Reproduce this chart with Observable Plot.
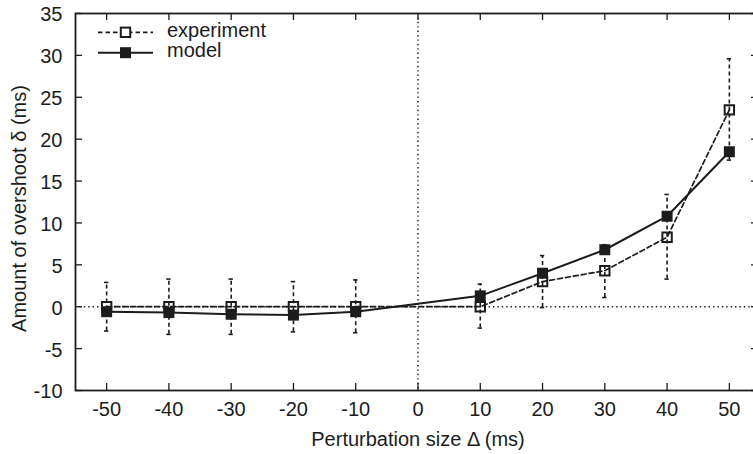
<!DOCTYPE html>
<html>
<head>
<meta charset="utf-8">
<script src="https://cdn.jsdelivr.net/npm/d3@7"></script>
<script src="https://cdn.jsdelivr.net/npm/@observablehq/plot@0.6"></script>
<style>
  html, body { margin: 0; padding: 0; background: #fff; overflow: hidden; }
  #chart svg { display: block; }
</style>
</head>
<body>
<div id="chart"></div>
<script>
// Perturbation sizes (ms)
const deltas = [-50, -40, -30, -20, -10, 10, 20, 30, 40, 50];
// Measured overshoot with error range
const experiment = [0, 0, 0, 0, 0, 0, 3.0, 4.3, 8.3, 23.5];
const experimentLow = [-2.9, -3.3, -3.3, -3.0, -3.1, -2.55, -0.1, 1.1, 3.3, 17.5];
const experimentHigh = [2.9, 3.3, 3.3, 3.0, 3.2, 2.7, 6.1, 7.4, 13.4, 29.6];
// Model prediction
const model = [-0.6, -0.7, -0.9, -1.0, -0.6, 1.3, 4.0, 6.8, 10.8, 18.5];
// Axis ticks
const xTicks = [-50, -40, -30, -20, -10, 0, 10, 20, 30, 40, 50];
const yTicks = [-10, -5, 0, 5, 10, 15, 20, 25, 30, 35];
const seriesNames = ["experiment", "model"];

const rows = deltas.map((d, i) => ({
  delta: d,
  exp: experiment[i],
  lo: experimentLow[i],
  hi: experimentHigh[i],
  model: model[i]
}));

const ink = "#1c1c1c";
const font = "'Liberation Sans', Arial, Helvetica, sans-serif";
const plain = d => String(d); // hyphen-minus for negative labels

const chart = Plot.plot({
  width: 753,
  height: 454,
  marginTop: 13,
  marginBottom: 64,
  marginLeft: 75,
  marginRight: -7,
  style: { fontFamily: font, fontSize: "20px", color: ink, background: "#fff" },
  x: { domain: [-55, 55] },
  y: { domain: [-10, 35] },
  marks: [
    // reference lines at zero
    Plot.ruleY([0], { stroke: ink, strokeWidth: 1.4, strokeDasharray: "1.4,3" }),
    Plot.ruleX([0], { stroke: ink, strokeWidth: 1.4, strokeDasharray: "1.4,3" }),
    // inward ticks on all four sides
    Plot.ruleX(xTicks, { x: d => d, y1: -10, y2: -10, insetTop: -7, stroke: ink, strokeWidth: 1.3 }),
    Plot.ruleX(xTicks, { x: d => d, y1: 35, y2: 35, insetBottom: -7, stroke: ink, strokeWidth: 1.3 }),
    Plot.ruleY(yTicks, { y: d => d, x1: -55, x2: -55, insetRight: -7, stroke: ink, strokeWidth: 1.3 }),
    Plot.ruleY(yTicks, { y: d => d, x1: 55, x2: 55, insetLeft: -9, stroke: ink, strokeWidth: 1.3 }),
    Plot.frame({ stroke: ink, strokeWidth: 1.8 }),
    // tick labels
    Plot.axisX(xTicks, { tickSize: 0, tickPadding: 11.5, label: null, fontSize: 20, tickFormat: plain }),
    Plot.axisY(yTicks, { tickSize: 0, tickPadding: 13, label: null, fontSize: 20, dy: 1.5, tickFormat: plain }),
    // axis titles
    Plot.text(["Perturbation size Δ (ms)"], {
      frameAnchor: "bottom", lineAnchor: "middle", textAnchor: "middle",
      dy: 48.6, fontSize: 20, fill: ink
    }),
    Plot.text(["Amount of overshoot δ (ms)"], {
      frameAnchor: "left", lineAnchor: "middle", textAnchor: "middle", rotate: -90,
      dx: -56.4, dy: 6.5, fontSize: 20, fill: ink
    }),
    // experiment error bars
    Plot.ruleX(rows, { x: "delta", y1: "lo", y2: "hi", stroke: ink, strokeWidth: 1.6, strokeDasharray: "4,3" }),
    Plot.ruleY(rows, { y: "hi", x1: d => d.delta - 0.35, x2: d => d.delta + 0.35, stroke: ink, strokeWidth: 1.6 }),
    Plot.ruleY(rows, { y: "lo", x1: d => d.delta - 0.35, x2: d => d.delta + 0.35, stroke: ink, strokeWidth: 1.6 }),
    // series lines
    Plot.line(rows, { x: "delta", y: "model", stroke: ink, strokeWidth: 2 }),
    Plot.line(rows, { x: "delta", y: "exp", stroke: ink, strokeWidth: 1.7, strokeDasharray: "5,3" }),
    // markers
    Plot.dot(rows, { x: "delta", y: "model", symbol: "square", r: 6.2, fill: ink, stroke: "none" }),
    Plot.dot(rows, { x: "delta", y: "exp", symbol: "square", r: 5.3, fill: "none", stroke: ink, strokeWidth: 2 })
  ]
});

// legend in the upper-left corner of the plot area
const svg = d3.select(chart);
const legend = svg.append("g")
  .attr("font-family", font).attr("font-size", 20).attr("fill", ink)
  .attr("text-anchor", "start");
const legendRows = [
  { name: seriesNames[0], y: 32.3, dash: "4.5,3", filled: false },
  { name: seriesNames[1], y: 52.7, dash: null, filled: true }
];
legendRows.forEach(r => {
  legend.append("line")
    .attr("x1", 98).attr("x2", 153).attr("y1", r.y).attr("y2", r.y)
    .attr("stroke", ink).attr("stroke-width", r.filled ? 2 : 1.7)
    .attr("stroke-dasharray", r.dash);
  const s = r.filled ? 11 : 9.4;
  legend.append("rect")
    .attr("x", 125.5 - s / 2).attr("y", r.y - s / 2).attr("width", s).attr("height", s)
    .attr("fill", r.filled ? ink : "#fff")
    .attr("stroke", r.filled ? "none" : ink).attr("stroke-width", 2);
  legend.append("text")
    .attr("x", 167).attr("y", r.y + 4.6)
    .attr("text-anchor", "start")
    .text(r.name);
});

document.getElementById("chart").appendChild(chart);
</script>
</body>
</html>
